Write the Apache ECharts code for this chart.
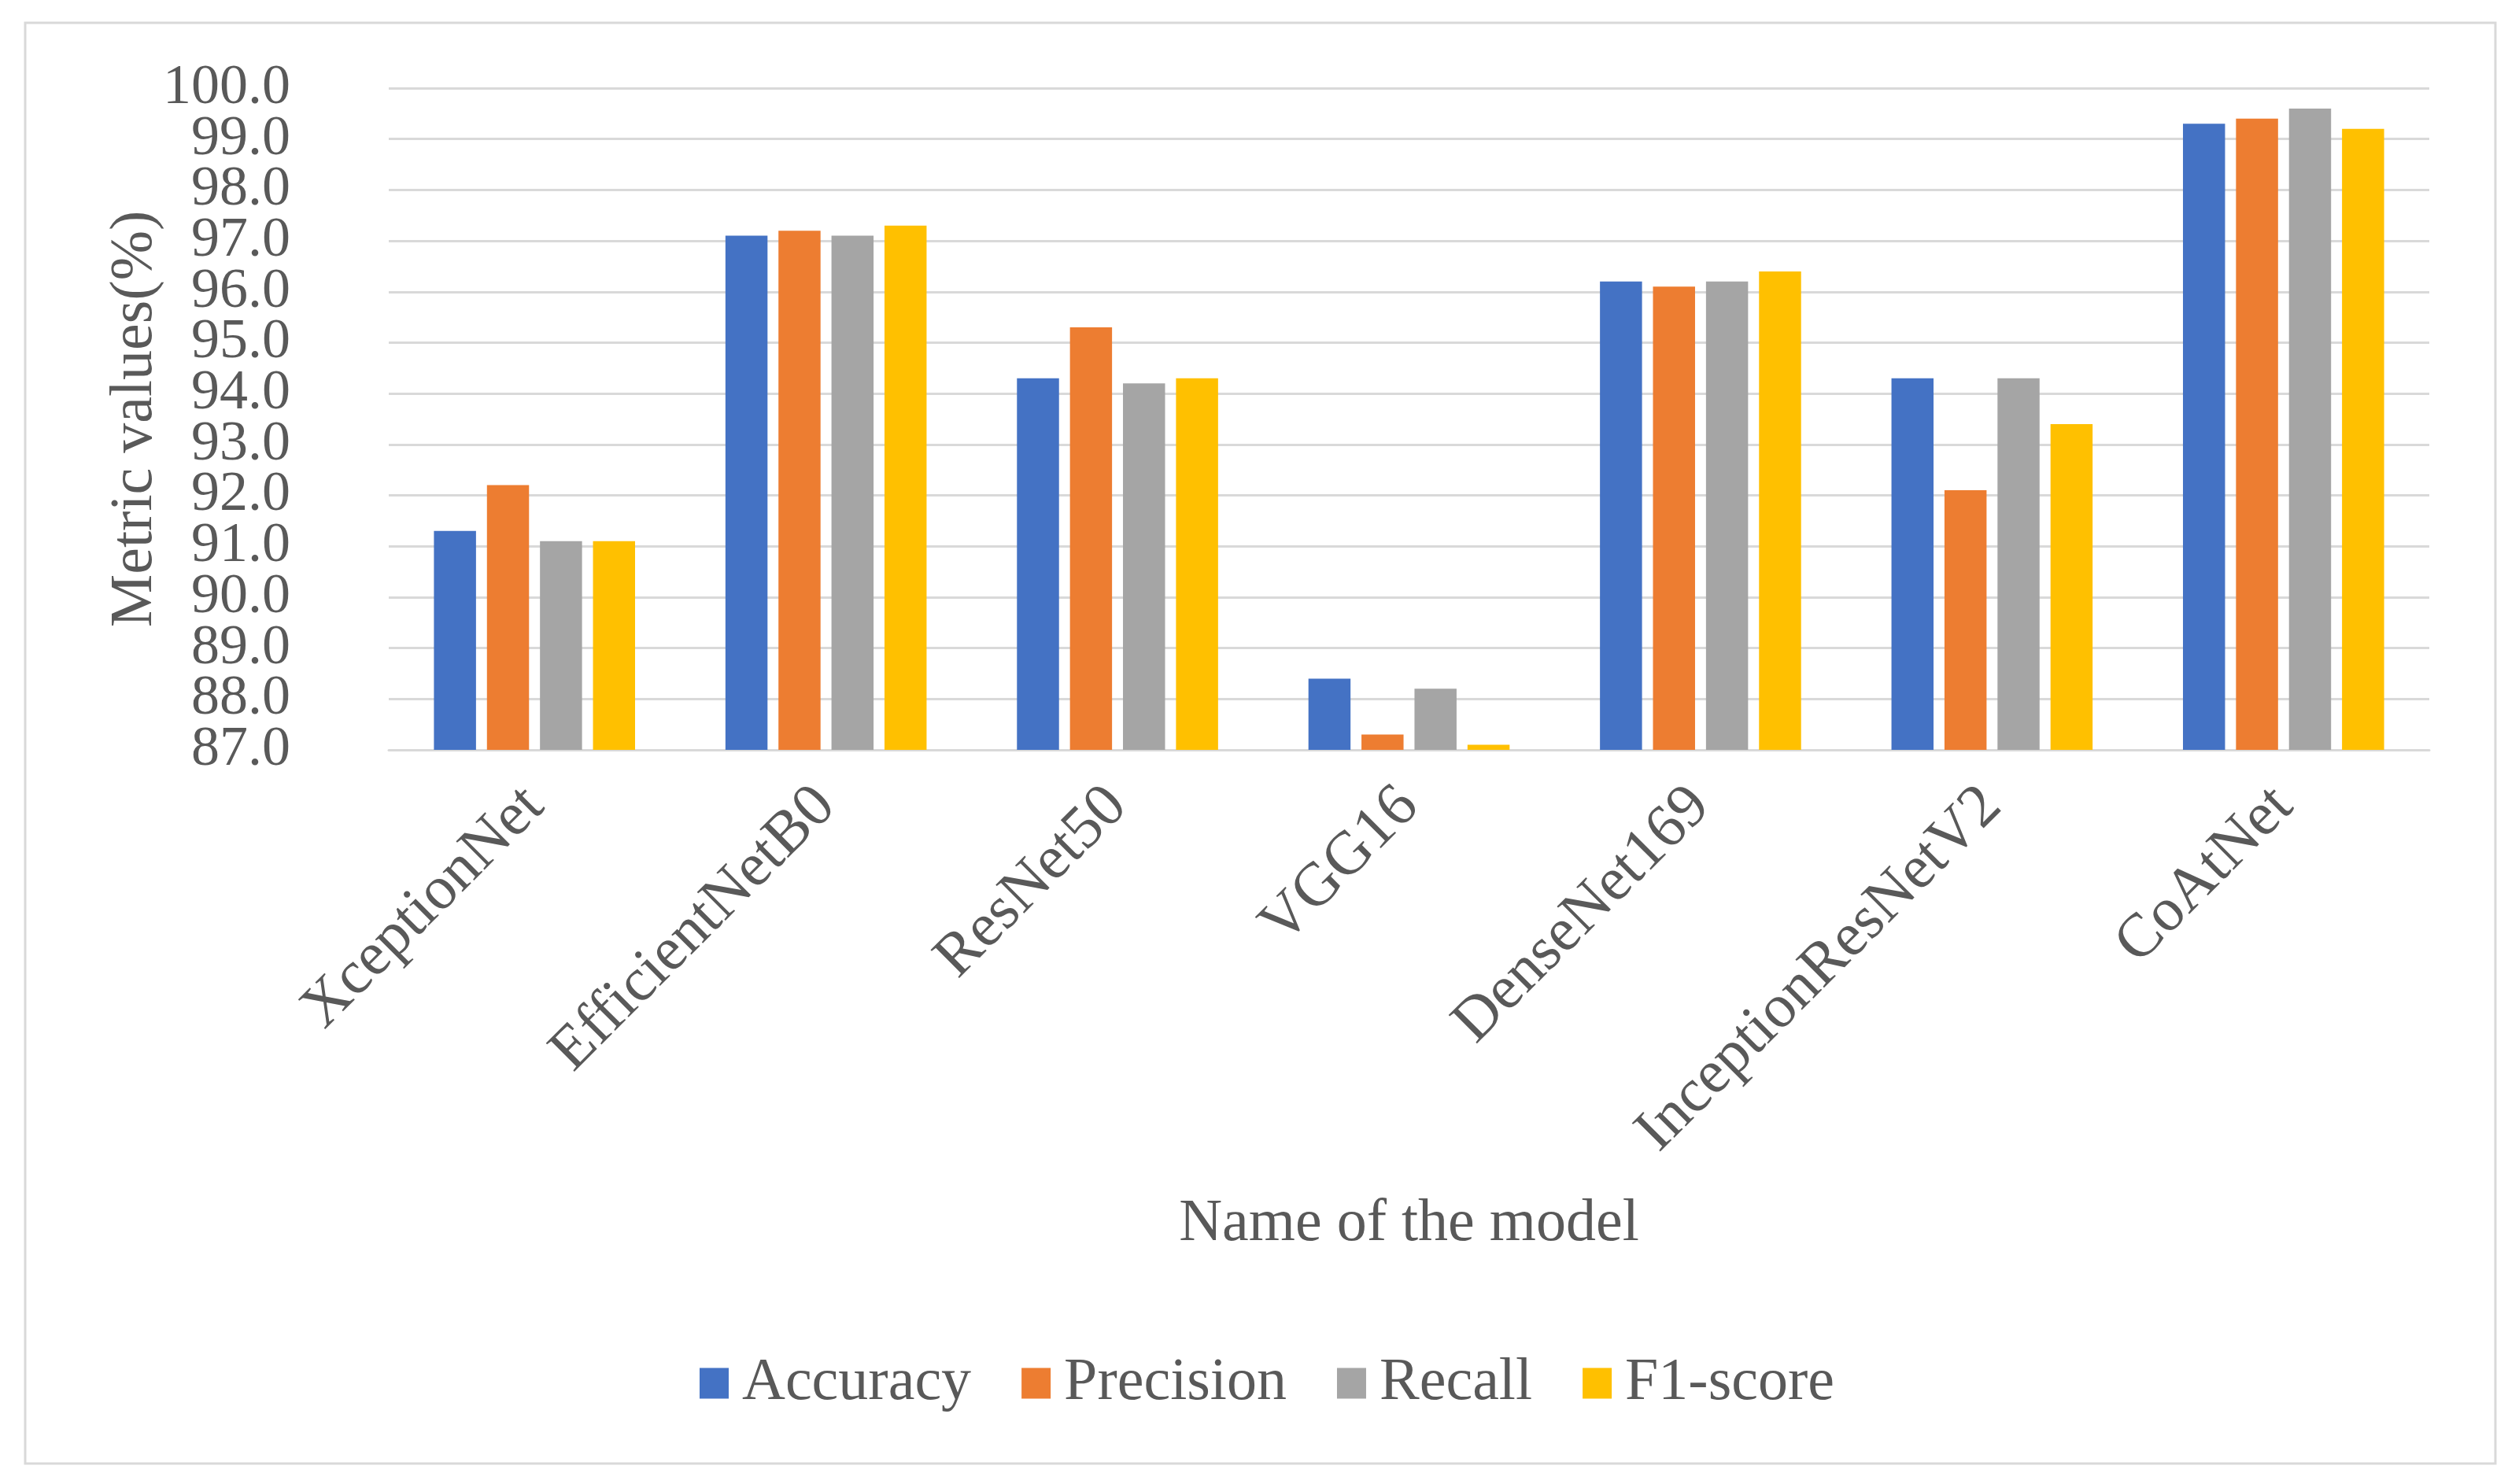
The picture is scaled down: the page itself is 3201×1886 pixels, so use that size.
<!DOCTYPE html>
<html>
<head>
<meta charset="utf-8">
<script src="https://cdn.jsdelivr.net/npm/echarts@6/dist/echarts.min.js"></script>
<style>
html,body{margin:0;padding:0;background:#fff;}
#chart{width:3201px;height:1886px;}
</style>
</head>
<body>
<div id="chart"></div>
<script>
const categories = ['XceptionNet','EfficientNetB0','ResNet50','VGG16','DenseNet169','InceptionResNetV2','CoAtNet'];
const seriesNames = ['Accuracy','Precision','Recall','F1-score'];
const accuracy  = [91.3, 97.1, 94.3, 88.4, 96.2, 94.3, 99.3];
const precision = [92.2, 97.2, 95.3, 87.3, 96.1, 92.1, 99.4];
const recall    = [91.1, 97.1, 94.2, 88.2, 96.2, 94.3, 99.6];
const f1score   = [91.1, 97.3, 94.3, 87.1, 96.4, 93.4, 99.2];
const yTicks = {min: 87, max: 100, interval: 1};

const colors = ['#4472C4','#ED7D31','#A5A5A5','#FFC000'];
const font = '"Liberation Serif", "DejaVu Serif", serif';
const textColor = '#595959';
const values = [accuracy, precision, recall, f1score];

const labelStyle = {margin: 125, fontFamily: font, fontSize: 72, color: textColor};

const chart = echarts.init(document.getElementById('chart'), null, {renderer:'canvas'});
chart.setOption({
  backgroundColor: '#ffffff',
  animation: false,
  color: colors,
  graphic: [{
    type: 'rect',
    shape: {x: 32, y: 29, width: 3139, height: 1831},
    style: {fill: 'none', stroke: '#d9d9d9', lineWidth: 3},
    silent: true
  }],
  grid: {left: 494, right: 114, top: 112, bottom: 933, containLabel: false},
  legend: {
    data: seriesNames,
    left: 884,
    top: 1715,
    itemWidth: 37,
    itemHeight: 39,
    itemGap: 64,
    icon: 'rect',
    textStyle: {fontFamily: font, fontSize: 76, color: textColor, padding: [0,0,0,12]}
  },
  xAxis: {
    type: 'category',
    data: categories,
    name: 'Name of the model',
    nameLocation: 'middle',
    nameGap: 565,
    nameMoveOverlap: false,
    nameTextStyle: {fontFamily: font, fontSize: 76, color: textColor},
    axisLine: {show: true, lineStyle: {color: '#d9d9d9', width: 3}},
    axisTick: {show: false},
    axisLabel: {rotate: 45, margin: 60, fontFamily: font, fontSize: 78, color: textColor, interval: 0}
  },
  yAxis: [{
    type: 'value',
    min: yTicks.min,
    max: yTicks.max,
    interval: yTicks.interval,
    name: 'Metric values(%)',
    nameLocation: 'middle',
    nameGap: 284,
    nameRotate: 90,
    nameMoveOverlap: false,
    nameTextStyle: {fontFamily: font, fontSize: 76, color: textColor},
    axisLine: {show: false},
    axisTick: {show: false},
    splitLine: {show: true, lineStyle: {color: '#d9d9d9', width: 3}},
    axisLabel: Object.assign({}, labelStyle, {
      showMinLabel: true, showMaxLabel: true, hideOverlap: false,
      formatter: v => v.toFixed(1)})
  }, {
    // companion axis: supplies the two labels next to the ends that the first axis drops
    type: 'value',
    position: 'left',
    min: yTicks.min,
    max: yTicks.max,
    interval: yTicks.interval,
    axisLine: {show: false},
    axisTick: {show: false},
    splitLine: {show: false},
    axisLabel: Object.assign({}, labelStyle, {
      showMinLabel: false, showMaxLabel: false, hideOverlap: false,
      formatter: v => (v === yTicks.min + yTicks.interval || v === yTicks.max - yTicks.interval) ? v.toFixed(1) : ''})
  }],
  series: seriesNames.map((n, i) => ({
    name: n,
    type: 'bar',
    yAxisIndex: 0,
    data: values[i],
    barGap: '26%',
    barCategoryGap: '31%',
    itemStyle: {color: colors[i]}
  }))
});
</script>
</body>
</html>
